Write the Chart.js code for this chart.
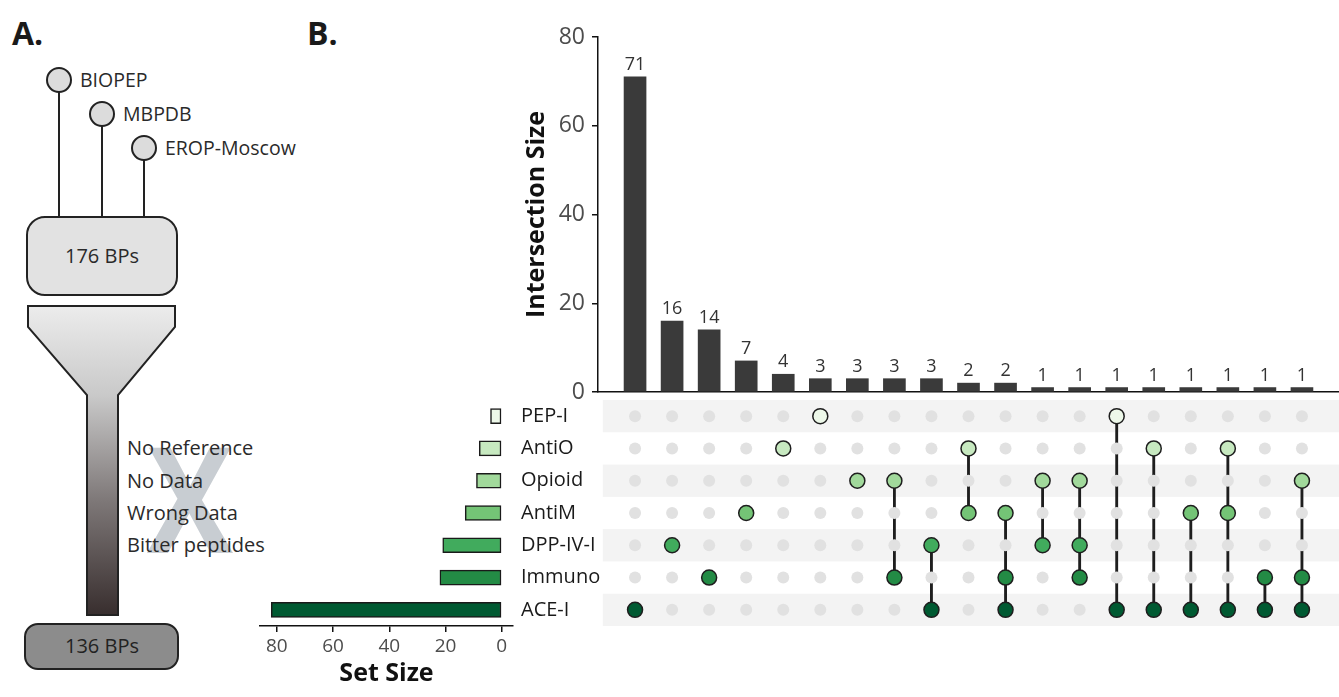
<!DOCTYPE html>
<html><head><meta charset="utf-8">
<script src="https://cdn.jsdelivr.net/npm/chart.js@4.4.1/dist/chart.umd.min.js"></script>
<style>
html,body{margin:0;padding:0;background:#fff;width:1339px;height:697px;overflow:hidden;}
#wrap{position:relative;width:1339px;height:697px;}
canvas,svg{position:absolute;display:block;}
</style></head><body>
<div id="wrap">
<svg width="1339" height="697" style="left:0;top:0" font-family="'Open Sans', sans-serif">
  <defs>
    <linearGradient id="fg" x1="0" y1="0" x2="0" y2="1">
      <stop offset="0" stop-color="#ececec"/>
      <stop offset="0.29" stop-color="#c9c9c9"/>
      <stop offset="0.63" stop-color="#7e7878"/>
      <stop offset="1" stop-color="#382e2e"/>
    </linearGradient>
  </defs>
  <text x="12" y="45" font-size="32" font-weight="bold" fill="#1a1a1a">A.</text>
  <text x="307" y="45" font-size="32" font-weight="bold" fill="#1a1a1a">B.</text>
  <g stroke="#222" stroke-width="2">
    <line x1="59" y1="92" x2="59" y2="217"/>
    <line x1="102" y1="125" x2="102" y2="217"/>
    <line x1="144" y1="160" x2="144" y2="217"/>
    <circle cx="59" cy="80" r="12" fill="#dcdcdc"/>
    <circle cx="102" cy="114" r="12" fill="#dcdcdc"/>
    <circle cx="144" cy="148" r="12" fill="#dcdcdc"/>
    <rect x="27" y="217" width="150" height="78" rx="18" fill="#e2e2e2"/>
    <path d="M28,306 L175,306 L175,327 L118,395 L118,615 L87,615 L87,395 L28,327 Z" fill="url(#fg)"/>
    <rect x="25" y="624" width="153" height="45" rx="13" fill="#8c8c8c"/>
  </g>
  <g font-size="19.5" fill="#2a2a2a">
    <text x="80" y="87">BIOPEP</text>
    <text x="123" y="121">MBPDB</text>
    <text x="165" y="155">EROP-Moscow</text>
  </g>
  <text x="102" y="263" font-size="20" text-anchor="middle" fill="#2a2a2a">176 BPs</text>
  <text x="102" y="653" font-size="20" text-anchor="middle" fill="#222">136 BPs</text>
  <text x="147" y="553" font-size="148" font-weight="bold" fill="#c8cdd2" textLength="86" lengthAdjust="spacingAndGlyphs">X</text>
  <g font-size="20" fill="#2a2a2a">
    <text x="127" y="455">No Reference</text>
    <text x="127" y="488">No Data</text>
    <text x="127" y="520">Wrong Data</text>
    <text x="127" y="552">Bitter peptides</text>
  </g>
</svg>
<canvas id="top" width="839" height="400" style="left:500px;top:0px"></canvas>
<canvas id="matrix" width="839" height="226" style="left:500px;top:400px"></canvas>
<canvas id="sets" width="350" height="297" style="left:250px;top:400px"></canvas>
</div>
<script>
// ---------------- data ----------------
const sets = ['PEP-I','AntiO','Opioid','AntiM','DPP-IV-I','Immuno','ACE-I'];
const setSizes = [4, 8, 9, 13, 21, 22, 82];
const intersectionSizes = [71,16,14,7,4,3,3,3,3,2,2,1,1,1,1,1,1,1,1];
const intersectionMembers = [
  ['ACE-I'],
  ['DPP-IV-I'],
  ['Immuno'],
  ['AntiM'],
  ['AntiO'],
  ['PEP-I'],
  ['Opioid'],
  ['Opioid','Immuno'],
  ['DPP-IV-I','ACE-I'],
  ['AntiO','AntiM'],
  ['AntiM','Immuno','ACE-I'],
  ['Opioid','DPP-IV-I'],
  ['Opioid','DPP-IV-I','Immuno'],
  ['PEP-I','ACE-I'],
  ['AntiO','ACE-I'],
  ['AntiM','ACE-I'],
  ['AntiO','AntiM','ACE-I'],
  ['Immuno','ACE-I'],
  ['Opioid','Immuno','ACE-I']
];
const intersectionTicks = [0,20,40,60,80];
const setSizeTicks = [0,20,40,60,80];

// ---------------- styles ----------------
const setColors = ['#edf8e9','#c7e9c0','#a1d99b','#74c476','#41ab5d','#238b45','#005a32'];
Chart.defaults.font.family = "'Open Sans', sans-serif";

// ---------------- derived ----------------
const barData = intersectionSizes.map((v,i)=>({x:i+1, y:v}));
const inactive = [], active = [], activeColors = [], links = [];
intersectionMembers.forEach((mem,i)=>{
  const rows = [];
  sets.forEach((s,r)=>{
    if (mem.includes(s)) { active.push({x:i+1,y:r}); activeColors.push(setColors[r]); rows.push(r); }
    else inactive.push({x:i+1,y:r});
  });
  if (rows.length > 1) links.push({x:i+1, y:[Math.min(...rows), Math.max(...rows)]});
});

const barLabelPlugin = {
  id:'barLabels',
  afterDatasetsDraw(chart){
    const ctx = chart.ctx, meta = chart.getDatasetMeta(0);
    ctx.save();
    ctx.font = "18px 'Open Sans', sans-serif";
    ctx.fillStyle = '#333';
    ctx.textAlign = 'center';
    ctx.textBaseline = 'bottom';
    meta.data.forEach((el,i)=>ctx.fillText(String(intersectionSizes[i]), el.x, el.y-3));
    ctx.restore();
  }
};

new Chart(document.getElementById('top'), {
  type:'bar',
  data:{datasets:[{data:barData, backgroundColor:'#3a3a3a', barThickness:22}]},
  options:{
    responsive:false, animation:false, events:[],
    layout:{padding:{top:37,bottom:8,left:0,right:0}, autoPadding:false},
    plugins:{legend:{display:false},tooltip:{enabled:false}},
    scales:{
      x:{type:'linear',min:0,max:20,offset:false,grid:{display:false,offset:false},ticks:{display:false},
         border:{display:true,color:'#111',width:1.5}, afterFit(s){s.height=0; s.paddingLeft=0; s.paddingRight=0;}},
      y:{type:'linear',min:0,max:80,
         afterBuildTicks(s){s.ticks=intersectionTicks.map(v=>({value:v}));},
         grid:{drawOnChartArea:false,drawTicks:true,tickLength:6,color:'#111',lineWidth:1.5},
         border:{color:'#111',width:1.5},
         ticks:{padding:7,color:'#4d4d4d',font:{size:23}},
         title:{display:true,text:'Intersection Size',color:'#111',font:{size:25,weight:'bold'},padding:{top:22,bottom:0}},
         afterFit(s){s.width=98; s.paddingTop=0; s.paddingBottom=0;}}
    }
  },
  plugins:[barLabelPlugin]
});

const bandPlugin = {
  id:'bands',
  beforeDatasetsDraw(chart){
    const {ctx, chartArea, scales:{x,y}} = chart;
    ctx.save();
    ctx.fillStyle = '#f3f3f3';
    sets.forEach((s,i)=>{
      if (i%2===0){
        const t = y.getPixelForValue(i-0.5), b = y.getPixelForValue(i+0.5);
        const l = x.getPixelForValue(0.13);
        ctx.fillRect(l, Math.min(t,b), chartArea.right-l, Math.abs(b-t));
      }
    });
    ctx.restore();
  }
};

new Chart(document.getElementById('matrix'), {
  type:'scatter',
  data:{datasets:[
    {type:'bar', data:links, backgroundColor:'#1e1e1e', barThickness:2.2, order:3},
    {type:'scatter', data:inactive, pointRadius:6, pointBackgroundColor:'#e1e1e1', pointBorderWidth:0, order:2},
    {type:'scatter', data:active, pointRadius:7.5, pointBackgroundColor:activeColors, pointBorderColor:'#1e1e1e', pointBorderWidth:1.5, order:1}
  ]},
  options:{
    responsive:false, animation:false, events:[],
    layout:{padding:{left:98,right:0,top:0,bottom:0}, autoPadding:false},
    plugins:{legend:{display:false},tooltip:{enabled:false}},
    scales:{
      x:{type:'linear',min:0,max:20,offset:false,display:false},
      y:{type:'linear',min:-0.5,max:6.5,reverse:true,offset:false,display:false}
    }
  },
  plugins:[bandPlugin]
});

new Chart(document.getElementById('sets'), {
  type:'bar',
  data:{labels:sets, datasets:[{data:setSizes, backgroundColor:setColors, borderColor:'#1a1a1a', borderWidth:1.5, borderSkipped:false, barThickness:15}]},
  options:{
    indexAxis:'y', responsive:false, animation:false, events:[],
    layout:{padding:{left:10,right:0,top:0,bottom:0}, autoPadding:false},
    plugins:{legend:{display:false},tooltip:{enabled:false}},
    scales:{
      x:{type:'linear',reverse:true,min:-4,max:86,
         afterBuildTicks(s){s.ticks=setSizeTicks.map(v=>({value:v}));},
         grid:{drawOnChartArea:false,drawTicks:true,tickLength:6,color:'#111',lineWidth:1.5},
         border:{color:'#111',width:1.5},
         ticks:{padding:3,color:'#4d4d4d',font:{size:19}},
         title:{display:true,text:'Set Size',color:'#111',font:{size:25,weight:'bold'},padding:{top:2,bottom:8}},
         afterFit(s){s.height=71; s.paddingLeft=0; s.paddingRight=0;}},
      y:{position:'right',grid:{display:false},border:{display:false},
         ticks:{padding:0,color:'#1a1a1a',font:{size:20}},
         afterFit(s){s.width=87; s.paddingTop=0; s.paddingBottom=0;}}
    }
  }
});
</script>
</body></html>
